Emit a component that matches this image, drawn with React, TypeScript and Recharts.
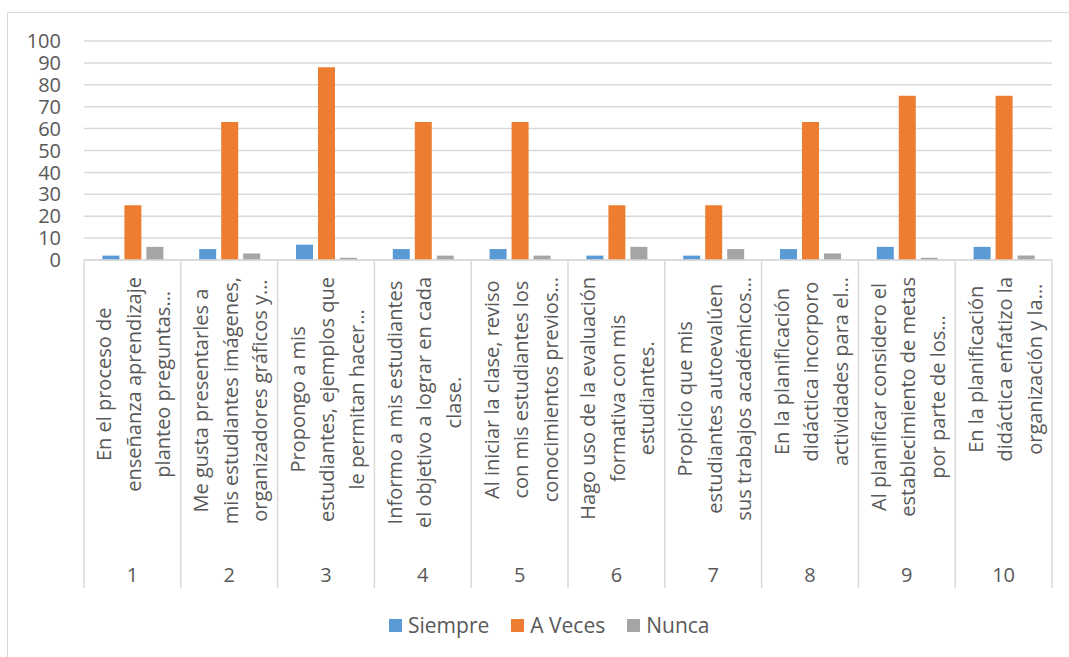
import { BarChart, Bar, XAxis, YAxis, CartesianGrid } from 'recharts';

const categories = ['1', '2', '3', '4', '5', '6', '7', '8', '9', '10'];

const labelLines = [
  ['En el proceso de', 'enseñanza aprendizaje', 'planteo preguntas…'],
  ['Me gusta presentarles a', 'mis estudiantes imágenes,', 'organizadores gráficos y…'],
  ['Propongo a mis', 'estudiantes, ejemplos que', 'le permitan hacer…'],
  ['Informo a mis estudiantes', 'el objetivo a lograr en cada', 'clase.'],
  ['Al iniciar la clase, reviso', 'con mis estudiantes los', 'conocimientos previos…'],
  ['Hago uso de la evaluación', 'formativa con mis', 'estudiantes.'],
  ['Propicio que mis', 'estudiantes autoevalúen', 'sus trabajos académicos…'],
  ['En la planificación', 'didáctica incorporo', 'actividades para el…'],
  ['Al planificar considero el', 'establecimiento de metas', 'por parte de los…'],
  ['En la planificación', 'didáctica enfatizo la', 'organización y la…'],
];

const siempre = [2, 5, 7, 5, 5, 2, 2, 5, 6, 6];
const aVeces = [25, 63, 88, 63, 63, 25, 25, 63, 75, 75];
const nunca = [6, 3, 1, 2, 2, 6, 5, 3, 1, 2];

const yTicks = [0, 10, 20, 30, 40, 50, 60, 70, 80, 90, 100];

const series = [
  { key: 'siempre', name: 'Siempre', color: '#5B9BD5' },
  { key: 'aVeces', name: 'A Veces', color: '#ED7D31' },
  { key: 'nunca', name: 'Nunca', color: '#A5A5A5' },
];

const data = categories.map((c, i) => ({
  cat: c,
  lines: labelLines[i],
  siempre: siempre[i],
  aVeces: aVeces[i],
  nunca: nunca[i],
}));

const FONT = "'Open Sans', 'Noto Sans', sans-serif";
const TEXT = '#595959';
const GRID = '#D9D9D9';
const AXIS_H = 328;
const PLOT_L = 84;
const PLOT_R = 1052;

let ctx: CanvasRenderingContext2D | null = null;
const measure = (s: string) => {
  if (!ctx) ctx = document.createElement('canvas').getContext('2d');
  if (!ctx) return s.length * 10;
  ctx.font = `20px ${FONT}`;
  return ctx.measureText(s).width;
};

const CatTick = ({ x, y, payload, index }: any) => {
  const half = payload?.offset > 0 ? payload.offset : (PLOT_R - PLOT_L) / categories.length / 2;
  const lines: string[] = labelLines[payload.index ?? index] || [];
  const longest = Math.max(...lines.map(measure));
  const cy = y + 17 + longest / 2;
  const last = (payload.index ?? index) === categories.length - 1;
  return (
    <g>
      <line x1={x - half} x2={x - half} y1={y} y2={y + AXIS_H} stroke={GRID} strokeWidth={1.5} />
      {last && <line x1={x + half} x2={x + half} y1={y} y2={y + AXIS_H} stroke={GRID} strokeWidth={1.5} />}
      {lines.map((t, i) => {
        const lx = x + 1 + (i - (lines.length - 1) / 2) * 29.5;
        return (
          <text key={i} x={lx} y={cy} transform={`rotate(-90 ${lx} ${cy})`} textAnchor="middle"
            dominantBaseline="central" fontSize={20} fontFamily={FONT} fill={TEXT}>
            {t}
          </text>
        );
      })}
      <text x={x} y={y + 314} textAnchor="middle" dominantBaseline="central" fontSize={20} fontFamily={FONT} fill={TEXT}>
        {payload.value}
      </text>
    </g>
  );
};

export default function App() {
  return (
    <div style={{ position: 'absolute', left: 0, top: 0, width: 1069, height: 657, overflow: 'hidden', background: '#fff' }}>
      <div style={{ position: 'absolute', left: 7, top: 12, width: 1100, height: 700, border: `1px solid ${GRID}` }} />
      <div style={{ position: 'absolute', left: 0, top: 0 }}>
        <BarChart width={1069} height={657} data={data} barCategoryGap="19%" barGap={5}
          margin={{ top: 41, right: 1069 - PLOT_R, bottom: 657 - 260 - AXIS_H, left: 0 }}>
          <CartesianGrid vertical={false} stroke={GRID} strokeWidth={1.5} />
          <XAxis dataKey="cat" height={AXIS_H} interval={0} tickLine={false} tickSize={0} tickMargin={0}
            axisLine={{ stroke: GRID, strokeWidth: 1.5 }} tick={<CatTick />} />
          <YAxis width={PLOT_L} domain={[0, 100]} ticks={yTicks} interval={0} axisLine={false} tickLine={false}
            tickSize={0} tickMargin={23} tick={{ fontSize: 20, fontFamily: FONT, fill: TEXT }} />
          {series.map(s => (
            <Bar key={s.key} dataKey={s.key} name={s.name} fill={s.color} isAnimationActive={false} />
          ))}
        </BarChart>
      </div>
      <div style={{ position: 'absolute', left: 389, top: 611, display: 'flex', alignItems: 'center', fontFamily: FONT, fontSize: 21, color: TEXT }}>
        {series.map(s => (
          <div key={s.key} style={{ display: 'flex', alignItems: 'center', marginRight: 22 }}>
            <span style={{ width: 13, height: 13, background: s.color, marginRight: 6, display: 'inline-block' }} />
            <span>{s.name}</span>
          </div>
        ))}
      </div>
    </div>
  );
}
